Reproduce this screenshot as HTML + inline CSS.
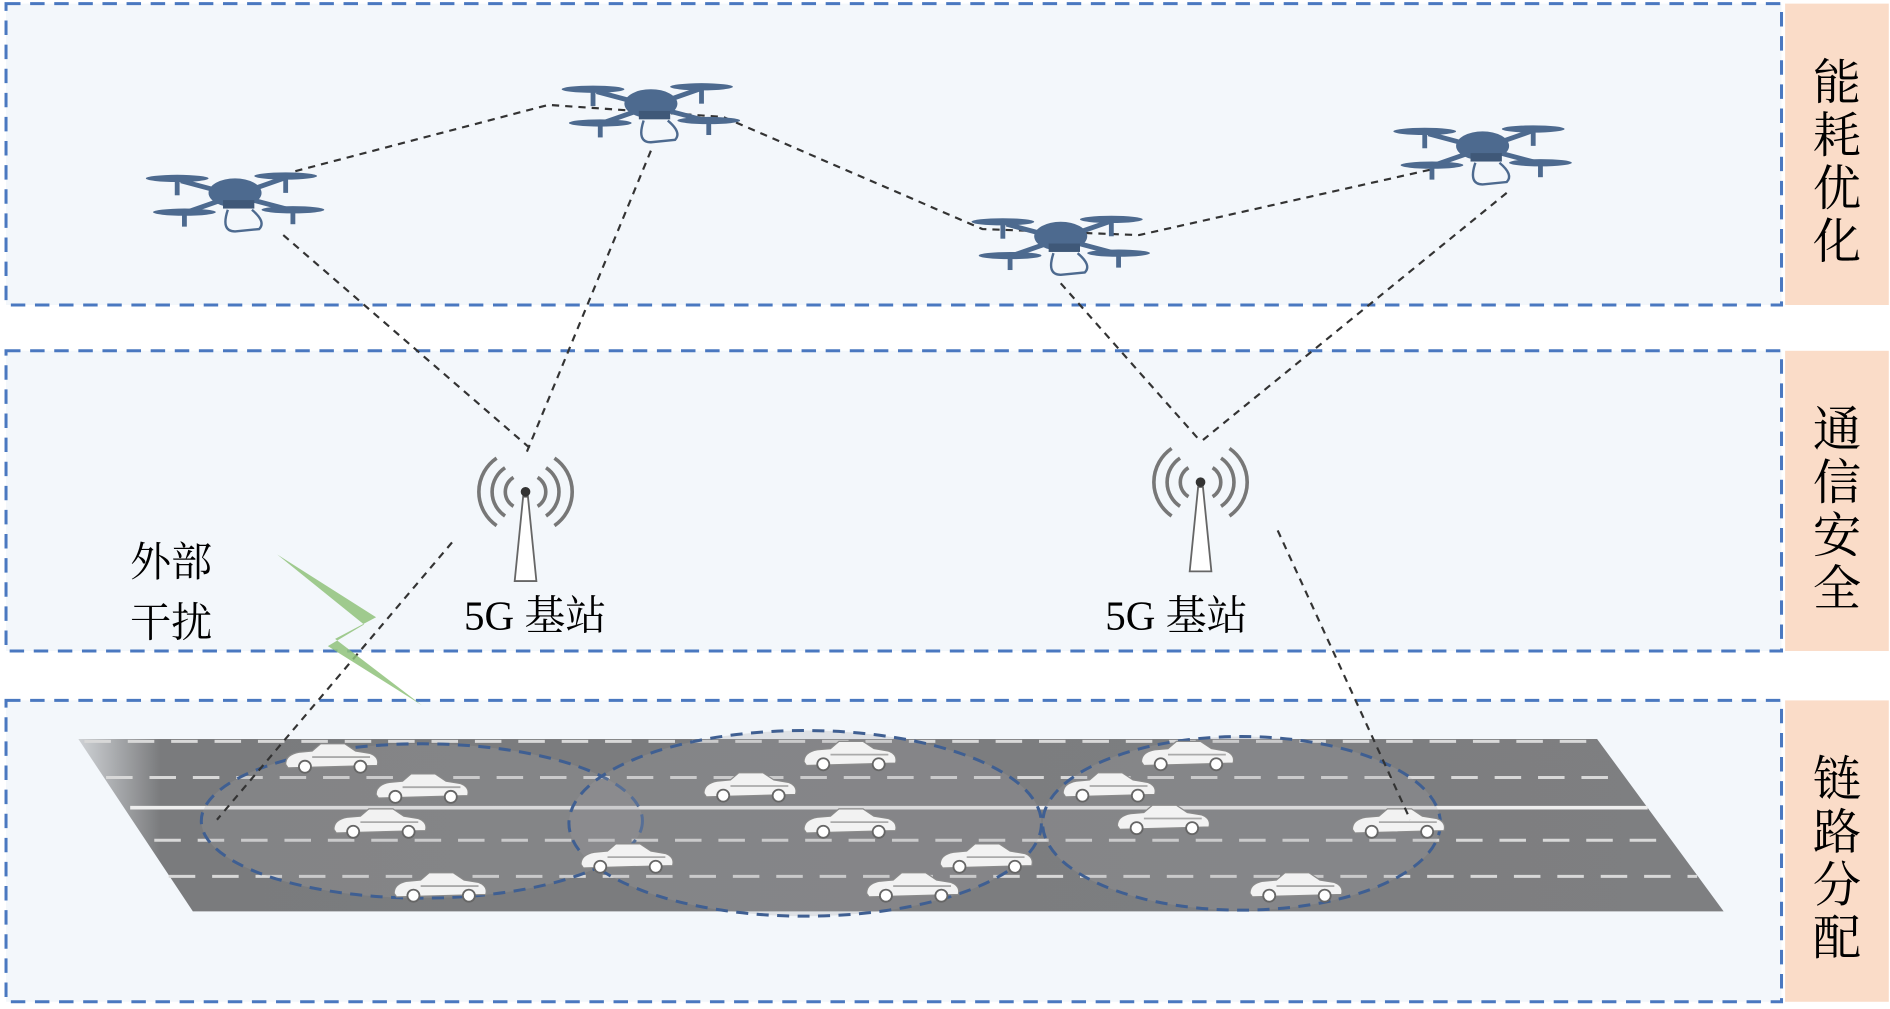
<!DOCTYPE html>
<html><head><meta charset="utf-8"><style>
html,body{margin:0;padding:0;background:#fff;}
svg{display:block;}
</style></head><body>
<svg width="1890" height="1009" viewBox="0 0 1568 837" preserveAspectRatio="none" xmlns="http://www.w3.org/2000/svg">
<defs>
<linearGradient id="fade" x1="0" x2="1" y1="0" y2="0">
<stop offset="0" stop-color="#7a7b7d" stop-opacity="0.3"/>
<stop offset="0.05" stop-color="#7a7b7d" stop-opacity="1"/>
<stop offset="1" stop-color="#7e7f81"/>
</linearGradient>
<g id="car">
<path d="M-38,4 Q-38,-4 -27,-6 L-16,-7 L-9,-13 L11,-13 L20,-7 L32,-5 Q40,-2 38,5 L-36,7 Z" fill="#f2f2f2" stroke="#8a8a8a" stroke-width="1"/>
<line x1="-16" y1="-2" x2="32" y2="-2" stroke="#aaa" stroke-width="1.5"/>
<circle cx="-22" cy="6" r="5" fill="#fff" stroke="#666" stroke-width="1.5"/>
<circle cx="24" cy="6" r="5" fill="#fff" stroke="#666" stroke-width="1.5"/>
</g>
<g id="drone" fill="#4d6a8f" stroke="#4d6a8f">
<line x1="-45" y1="-12" x2="45" y2="12" stroke-width="4"/>
<line x1="40" y1="-14" x2="-40" y2="14" stroke-width="4"/>
<ellipse cx="-48" cy="-14" rx="26" ry="3" stroke="none"/>
<ellipse cx="42" cy="-16" rx="26" ry="3" stroke="none"/>
<ellipse cx="-42" cy="14" rx="26" ry="3" stroke="none"/>
<ellipse cx="48" cy="12" rx="26" ry="3" stroke="none"/>
<rect x="-50" y="-14" width="4" height="14" stroke="none"/>
<rect x="40" y="-16" width="4" height="14" stroke="none"/>
<rect x="-44" y="14" width="4" height="12" stroke="none"/>
<rect x="46" y="12" width="4" height="12" stroke="none"/>
<ellipse cx="0" cy="-2" rx="22" ry="12" stroke="none"/>
<rect x="-10" y="4" width="26" height="7" fill="#3f5878" stroke="none"/>
<path d="M-6,12 Q-12,30 0,30 L20,28 Q26,22 14,12" fill="none" stroke-width="2"/>
</g>
<g id="tower">
<path d="M-2,0 L-9,70 L9,70 L2,0 Z" fill="#fff" stroke="#666" stroke-width="1.5"/>
<circle cx="0" cy="-4" r="4" fill="#333"/>
<g fill="none" stroke="#777" stroke-width="3">
<path d="M-10,-16 A14,14 0 0 0 -10,8"/><path d="M10,-16 A14,14 0 0 1 10,8"/>
<path d="M-17,-24 A24,24 0 0 0 -17,16"/><path d="M17,-24 A24,24 0 0 1 17,16"/>
<path d="M-24,-32 A34,34 0 0 0 -24,24"/><path d="M24,-32 A34,34 0 0 1 24,24"/>
</g>
</g>
</defs>
<g fill="#f3f7fb" stroke="#4a78c0" stroke-width="2.5" stroke-dasharray="12,8">
<rect x="5" y="3" width="1473" height="250"/>
<rect x="5" y="291" width="1473" height="249"/>
<rect x="5" y="581" width="1473" height="250"/>
</g>
<g fill="#fadcc8">
<rect x="1481" y="3" width="86" height="250"/>
<rect x="1481" y="291" width="86" height="249"/>
<rect x="1481" y="581" width="86" height="250"/>
</g>
<g font-family="'Noto Serif CJK SC','Liberation Serif',serif" font-size="40" fill="#000" text-anchor="middle">
<text x="1524" y="82">能</text><text x="1524" y="126">耗</text><text x="1524" y="170">优</text><text x="1524" y="214">化</text>
<text x="1524" y="370">通</text><text x="1524" y="414">信</text><text x="1524" y="458">安</text><text x="1524" y="502">全</text>
<text x="1524" y="660">链</text><text x="1524" y="704">路</text><text x="1524" y="748">分</text><text x="1524" y="792">配</text>
</g>
<path d="M65,613 L1325,613 L1430,756 L160,756 Z" fill="url(#fade)"/>
<g stroke="#d8d8d8" stroke-width="2.5" stroke-dasharray="22,14" fill="none">
<line x1="70" y1="615" x2="1325" y2="615"/>
<line x1="88" y1="645" x2="1348" y2="645"/>
<line x1="128" y1="697" x2="1386" y2="697"/>
<line x1="140" y1="727" x2="1408" y2="727"/>
</g>
<line x1="108" y1="670" x2="1367" y2="670" stroke="#eee" stroke-width="3"/>
<g fill="#a0a0a2" fill-opacity="0.25" stroke="#3f5f92" stroke-width="2.5" stroke-dasharray="10,7">
<ellipse cx="350" cy="681" rx="183" ry="64"/>
<ellipse cx="668" cy="683" rx="196" ry="77"/>
<ellipse cx="1030" cy="683" rx="165" ry="72"/>
</g>
<use href="#car" x="275" y="630"/><use href="#car" x="350" y="655"/><use href="#car" x="315" y="684"/>
<use href="#car" x="365" y="737"/><use href="#car" x="520" y="713"/><use href="#car" x="622" y="654"/>
<use href="#car" x="705" y="628"/><use href="#car" x="705" y="684"/><use href="#car" x="818" y="713"/>
<use href="#car" x="757" y="737"/><use href="#car" x="985" y="628"/><use href="#car" x="920" y="654"/>
<use href="#car" x="965" y="681"/><use href="#car" x="1160" y="684"/><use href="#car" x="1075" y="737"/>
<g stroke="#333" stroke-width="1.8" stroke-dasharray="6,5" fill="none">
<polyline points="245,142 455,87 600,97 815,190 945,195 1190,140"/>
<line x1="235" y1="195" x2="440" y2="372"/>
<line x1="540" y1="125" x2="437" y2="375"/>
<line x1="880" y1="235" x2="995" y2="365"/>
<line x1="1250" y1="160" x2="998" y2="365"/>
<line x1="375" y1="450" x2="180" y2="680"/>
<line x1="1060" y1="440" x2="1170" y2="680"/>
</g>
<use href="#drone" x="195" y="162"/>
<use href="#drone" x="540" y="88"/>
<use href="#drone" x="880" y="198"/>
<use href="#drone" x="1230" y="123"/>
<use href="#tower" x="436" y="412"/>
<use href="#tower" x="996" y="404"/>
<path d="M230,460 L312,512 L278,530 L350,585 L272,536 L302,518 Z" fill="#8fc27a" opacity="0.85"/>
<g font-family="'Liberation Serif','Noto Serif CJK SC',serif" font-size="34" fill="#000">
<text x="385" y="522">5G 基站</text>
<text x="917" y="522">5G 基站</text>
<text x="108" y="478">外部</text>
<text x="108" y="528">干扰</text>
</g>
</svg>
</body></html>
